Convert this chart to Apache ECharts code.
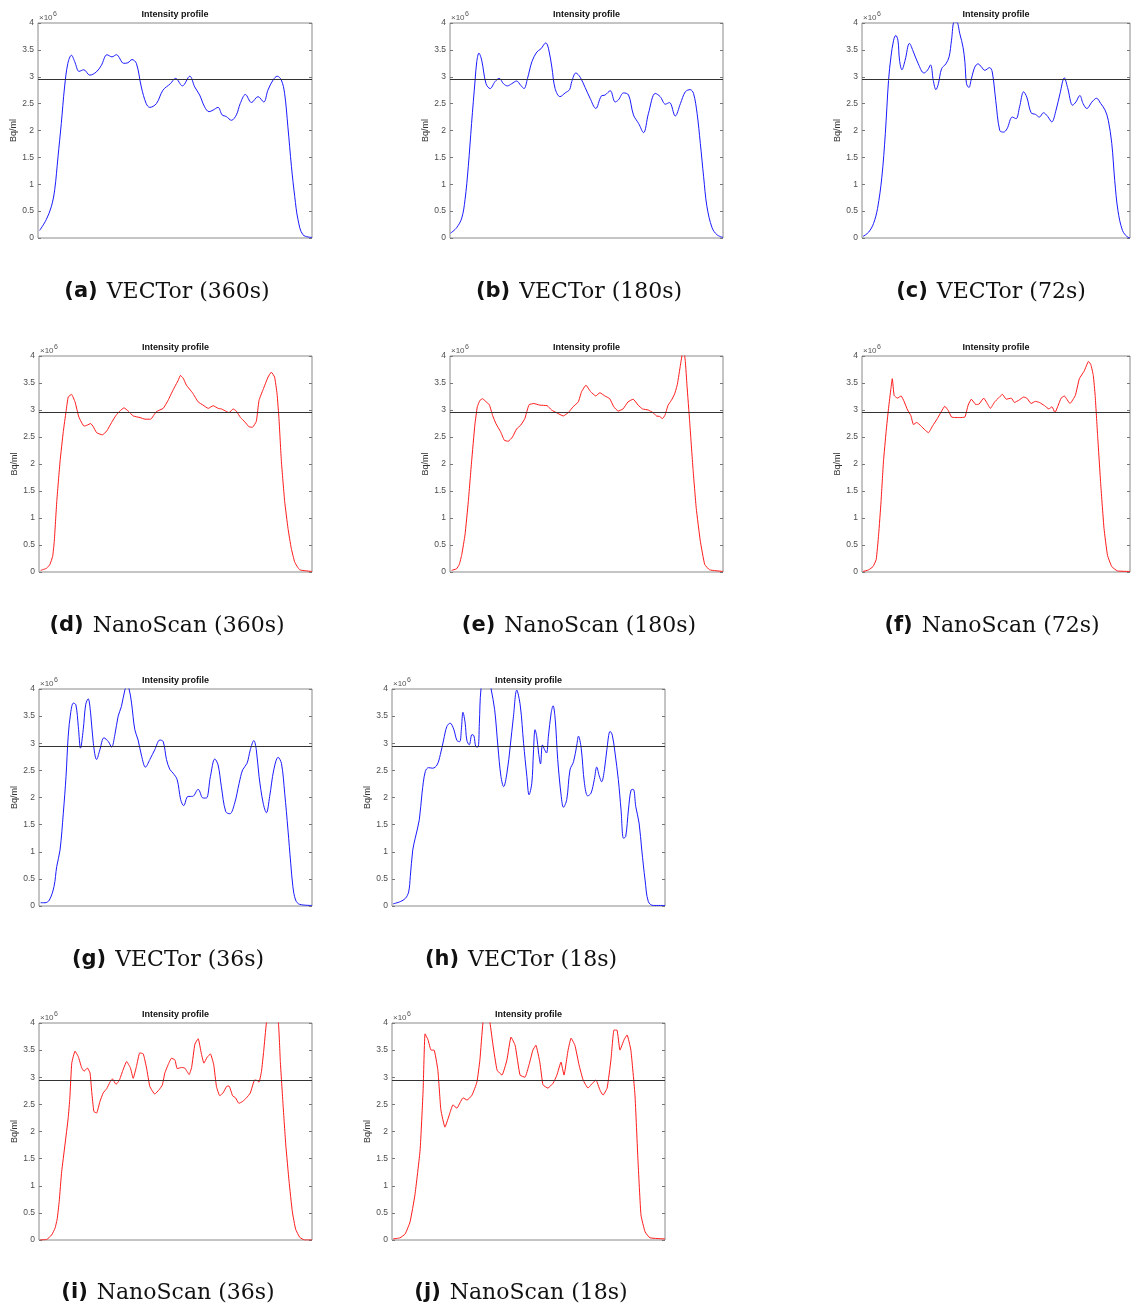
<!DOCTYPE html>
<html>
<head>
<meta charset="utf-8">
<script src="https://cdn.jsdelivr.net/npm/echarts@6/dist/echarts.min.js"></script>
<style>
html,body{margin:0;padding:0;background:#fff;}
#chart{width:1131px;height:1310px;}
</style>
</head>
<body>
<div id="chart"></div>
<script>
// ---- data: [position along profile (% of width), activity (×10^6 Bq/ml)] ----
const vector360 = [[0.6,0.14],[3.0,0.34],[4.9,0.59],[6.1,0.90],[7.3,1.51],[8.5,2.13],[9.7,2.81],[10.9,3.25],[12.2,3.40],[13.4,3.28],[15.0,3.10],[16.7,3.13],[18.9,3.03],[21.3,3.09],[23.1,3.21],[25.2,3.41],[27.0,3.37],[28.6,3.41],[31.3,3.25],[32.8,3.26],[34.3,3.32],[35.9,3.25],[37.7,2.81],[39.5,2.50],[40.8,2.43],[43.2,2.50],[45.6,2.75],[48.3,2.87],[50.2,2.97],[52.7,2.83],[55.4,3.01],[57.2,2.81],[59.0,2.66],[60.8,2.44],[62.4,2.35],[63.9,2.38],[65.7,2.43],[67.2,2.29],[68.7,2.26],[70.6,2.19],[72.4,2.29],[73.8,2.50],[75.7,2.67],[77.9,2.52],[80.3,2.63],[82.4,2.53],[83.9,2.75],[85.8,2.94],[87.3,3.01],[88.8,2.94],[90.0,2.69],[91.2,2.07],[92.5,1.33],[93.7,0.77],[94.9,0.34],[96.7,0.06],[100,0.01]];
const vector180 = [[0.2,0.09],[2.4,0.19],[4.3,0.37],[5.5,0.71],[6.7,1.33],[7.9,2.13],[9.2,2.94],[9.8,3.28],[10.6,3.44],[11.6,3.31],[13.2,2.87],[14.7,2.78],[16.5,2.91],[18.0,2.97],[19.6,2.87],[21.0,2.83],[22.6,2.87],[24.4,2.92],[25.9,2.84],[27.1,2.78],[28.4,2.97],[30.0,3.28],[31.8,3.46],[33.3,3.52],[35.1,3.63],[36.1,3.52],[37.3,3.18],[38.5,2.78],[40.3,2.63],[42.2,2.70],[43.8,2.76],[44.6,2.91],[46.1,3.07],[47.7,2.99],[49.5,2.80],[51.3,2.60],[53.4,2.41],[55.4,2.64],[56.8,2.66],[58.7,2.74],[60.5,2.53],[61.7,2.57],[63.6,2.70],[65.4,2.66],[67.2,2.29],[69.1,2.13],[70.9,1.96],[72.7,2.32],[75.2,2.69],[77.0,2.63],[78.9,2.49],[80.4,2.52],[82.5,2.27],[84.4,2.50],[86.2,2.72],[88.0,2.76],[89.2,2.69],[90.5,2.32],[91.7,1.76],[92.9,1.14],[94.1,0.59],[96.0,0.19],[97.8,0.06],[100,0.01]];
const vector72 = [[0.4,0.03],[2.5,0.11],[4.3,0.27],[5.8,0.55],[7.4,1.13],[8.7,1.94],[9.9,2.93],[10.8,3.37],[11.8,3.68],[12.6,3.77],[13.4,3.68],[14.0,3.31],[14.9,3.13],[16.1,3.31],[17.7,3.62],[19.2,3.46],[21.0,3.24],[23.1,3.07],[24.4,3.12],[25.6,3.22],[26.6,2.93],[27.6,2.76],[28.5,2.87],[29.7,3.15],[31.3,3.24],[32.5,3.37],[33.4,3.68],[34.4,4.02],[35.3,4.02],[36.5,3.80],[37.7,3.55],[38.4,3.27],[39.0,2.87],[39.9,2.80],[40.8,2.96],[42.1,3.18],[43.3,3.24],[44.6,3.18],[45.8,3.12],[47.6,3.17],[48.6,3.09],[49.9,2.56],[51.4,2.00],[52.8,1.97],[54.1,2.03],[56.1,2.25],[57.5,2.22],[58.8,2.44],[60.3,2.72],[61.5,2.62],[63.1,2.33],[64.7,2.30],[66.2,2.25],[67.7,2.33],[69.3,2.26],[70.8,2.16],[72.4,2.38],[73.9,2.69],[75.5,2.98],[76.7,2.80],[78.6,2.47],[79.8,2.53],[81.3,2.65],[82.5,2.50],[83.9,2.41],[85.8,2.53],[87.5,2.60],[89.1,2.50],[90.7,2.38],[91.9,2.19],[93.2,1.76],[94.3,1.07],[95.5,0.51],[97.2,0.14],[99.0,0.02],[100,0.0]];
const nano360 = [[0.6,0.03],[2.8,0.07],[4.0,0.14],[5.0,0.29],[5.6,0.57],[6.5,1.30],[7.7,2.04],[8.9,2.60],[9.9,2.97],[10.7,3.24],[11.9,3.29],[13.2,3.15],[14.6,2.87],[16.5,2.70],[17.7,2.72],[18.9,2.75],[19.9,2.69],[21.1,2.58],[23.2,2.54],[24.8,2.61],[26.6,2.77],[28.2,2.90],[29.6,2.98],[31.1,3.04],[32.7,2.98],[34.5,2.89],[37.0,2.86],[38.8,2.83],[40.9,2.83],[43.0,2.97],[45.5,3.03],[47.3,3.18],[49.1,3.37],[51.0,3.55],[51.8,3.64],[52.8,3.59],[54.0,3.46],[56.2,3.32],[58.3,3.15],[60.1,3.09],[62.0,3.03],[63.8,3.08],[65.6,3.03],[66.8,3.02],[68.4,2.98],[69.6,2.95],[71.1,3.02],[72.3,2.98],[73.8,2.86],[75.4,2.78],[76.9,2.69],[78.2,2.68],[79.6,2.79],[80.6,3.18],[82.1,3.38],[83.9,3.61],[85.1,3.70],[86.3,3.61],[87.2,3.30],[87.9,2.84],[88.8,2.04],[90.0,1.30],[91.2,0.81],[92.4,0.44],[93.7,0.18],[95.5,0.04],[100,0.01]];
const nano180 = [[0.6,0.03],[2.4,0.06],[3.4,0.14],[4.3,0.32],[5.5,0.69],[6.7,1.30],[7.9,2.04],[9.1,2.72],[10.0,3.06],[11.0,3.18],[12.0,3.21],[13.2,3.15],[14.4,3.10],[15.6,2.90],[16.8,2.75],[18.5,2.60],[19.9,2.44],[21.3,2.42],[22.9,2.50],[24.4,2.65],[25.9,2.72],[27.4,2.84],[28.3,3.00],[29.0,3.10],[30.7,3.12],[32.9,3.09],[35.6,3.08],[37.2,3.00],[39.0,2.95],[41.5,2.89],[43.3,2.95],[45.1,3.06],[47.0,3.15],[48.2,3.34],[49.8,3.46],[51.5,3.34],[53.4,3.26],[54.9,3.32],[56.7,3.26],[58.5,3.21],[60.0,3.06],[61.6,2.98],[63.4,3.02],[65.2,3.15],[67.1,3.20],[68.9,3.09],[70.5,3.02],[72.6,3.00],[74.4,2.95],[75.6,2.89],[76.8,2.88],[77.8,2.84],[78.7,2.90],[79.9,3.09],[81.1,3.18],[82.3,3.30],[83.3,3.48],[84.4,3.83],[85.5,4.15],[86.2,3.90],[86.8,3.46],[87.8,2.78],[89.0,1.92],[90.2,1.18],[91.7,0.57],[93.3,0.14],[95.1,0.04],[100,0.01]];
const nano72 = [[0.4,0.01],[2.5,0.04],[4.1,0.10],[5.3,0.23],[6.2,0.69],[7.1,1.30],[8.0,2.04],[9.0,2.60],[9.9,3.03],[10.8,3.40],[11.3,3.58],[12.0,3.27],[13.2,3.22],[14.6,3.26],[15.7,3.16],[17.0,3.00],[18.2,2.90],[19.2,2.73],[20.4,2.77],[21.9,2.71],[23.5,2.63],[24.8,2.58],[26.4,2.71],[28.1,2.84],[29.7,2.98],[30.9,3.07],[32.2,2.99],[33.4,2.87],[34.7,2.86],[36.5,2.86],[38.4,2.87],[39.6,3.09],[40.8,3.20],[42.5,3.10],[43.7,3.11],[45.4,3.22],[46.4,3.15],[47.9,3.03],[49.5,3.15],[50.7,3.21],[52.4,3.29],[53.8,3.20],[55.7,3.22],[56.9,3.14],[58.5,3.18],[60.3,3.24],[61.5,3.22],[63.1,3.12],[64.7,3.16],[66.2,3.14],[68.1,3.08],[69.7,3.02],[70.9,3.06],[72.0,2.95],[73.0,3.06],[74.3,3.22],[75.5,3.26],[77.6,3.12],[79.6,3.27],[81.1,3.58],[82.9,3.72],[84.5,3.90],[85.4,3.84],[86.3,3.64],[87.0,3.27],[87.9,2.54],[89.1,1.61],[90.3,0.81],[91.6,0.31],[93.2,0.10],[95.3,0.02],[100,0.01]];
const vector36 = [[0.6,0.06],[2.2,0.06],[3.8,0.11],[5.5,0.36],[6.5,0.73],[7.7,1.03],[8.9,1.71],[9.9,2.39],[10.7,3.13],[11.6,3.56],[12.6,3.74],[13.5,3.71],[14.4,3.31],[15.2,2.91],[16.2,3.25],[17.1,3.71],[18.0,3.82],[18.9,3.56],[19.9,3.00],[21.1,2.70],[22.3,2.88],[23.8,3.10],[25.4,3.03],[26.6,2.93],[27.8,3.16],[29.0,3.50],[30.2,3.68],[31.5,3.99],[32.3,4.05],[33.0,4.0],[33.9,3.74],[35.1,3.25],[36.3,3.06],[37.6,2.76],[39.0,2.56],[40.6,2.70],[42.4,2.88],[44.3,3.06],[45.5,3.03],[46.7,2.70],[47.9,2.52],[49.1,2.45],[50.6,2.33],[51.9,1.96],[53.0,1.85],[54.6,2.02],[56.2,2.02],[58.3,2.15],[60.1,1.99],[61.3,1.99],[62.8,2.39],[64.4,2.71],[65.6,2.60],[66.8,2.20],[68.4,1.74],[69.9,1.70],[71.7,1.90],[73.3,2.26],[74.6,2.51],[76.2,2.63],[77.4,2.88],[78.7,3.05],[79.6,2.88],[80.6,2.39],[82.1,1.90],[83.3,1.72],[84.5,2.02],[86.0,2.51],[87.6,2.74],[88.8,2.63],[90.0,2.08],[91.2,1.40],[92.2,0.79],[93.0,0.36],[94.0,0.11],[95.5,0.03],[100,0.01]];
const vector18 = [[0.4,0.04],[3.0,0.08],[4.9,0.14],[6.1,0.26],[6.7,0.54],[7.6,1.03],[8.5,1.25],[10.0,1.59],[11.0,2.08],[12.2,2.48],[13.4,2.55],[14.9,2.54],[16.5,2.60],[17.7,2.79],[18.9,3.06],[20.1,3.31],[21.3,3.37],[22.6,3.26],[23.8,3.05],[24.8,3.03],[25.4,3.25],[26.0,3.57],[26.8,3.37],[27.4,3.06],[28.3,2.97],[29.3,3.16],[30.0,3.14],[30.7,2.94],[31.5,2.93],[32.0,3.37],[32.6,4.0],[34.4,4.5],[36.3,4.0],[37.6,3.62],[38.8,2.94],[39.9,2.39],[40.9,2.20],[42.1,2.45],[43.3,2.94],[44.5,3.50],[45.7,3.98],[47.0,3.69],[48.2,3.00],[49.4,2.39],[50.2,2.05],[51.2,2.26],[51.8,2.82],[52.4,3.25],[53.0,3.13],[53.7,2.82],[54.4,2.62],[55.1,2.97],[55.9,2.88],[56.6,2.82],[57.3,3.13],[58.3,3.56],[59.0,3.69],[59.8,3.43],[60.7,2.70],[62.0,2.02],[62.8,1.82],[64.0,1.96],[65.2,2.51],[66.5,2.66],[67.7,2.97],[68.3,3.13],[69.3,2.91],[70.5,2.26],[71.7,2.03],[72.9,2.08],[74.1,2.33],[75.0,2.56],[75.9,2.40],[76.8,2.29],[77.8,2.51],[78.7,2.88],[79.9,3.22],[80.7,3.15],[81.7,2.82],[82.9,2.33],[83.9,1.77],[84.8,1.25],[85.6,1.28],[86.6,1.77],[87.6,2.14],[88.4,2.15],[89.3,1.83],[90.5,1.53],[91.5,1.03],[92.7,0.48],[93.9,0.08],[95.7,0.01],[100,0.01]];
const nano36 = [[0.4,0.0],[2.8,0.01],[4.6,0.09],[5.9,0.22],[6.7,0.40],[7.4,0.71],[8.3,1.26],[9.5,1.75],[10.7,2.25],[11.3,2.62],[12.0,3.26],[13.2,3.48],[14.4,3.38],[15.6,3.18],[16.5,3.11],[17.7,3.17],[18.7,3.08],[19.3,2.74],[20.1,2.37],[21.1,2.34],[22.3,2.55],[23.5,2.71],[24.8,2.79],[26.0,2.91],[26.9,2.97],[28.2,2.87],[29.4,2.94],[30.6,3.11],[32.1,3.29],[33.5,3.17],[34.5,2.98],[35.7,3.20],[36.9,3.45],[38.2,3.43],[39.4,3.17],[40.6,2.83],[42.4,2.69],[44.0,2.77],[45.2,2.86],[46.1,3.08],[47.3,3.23],[48.5,3.35],[49.8,3.32],[50.6,3.16],[52.2,3.18],[53.4,3.17],[55.0,3.05],[55.9,3.18],[57.1,3.61],[58.3,3.71],[59.5,3.43],[60.4,3.26],[61.6,3.37],[62.8,3.43],[64.0,3.23],[65.0,2.83],[66.2,2.66],[67.4,2.71],[68.7,2.83],[69.6,2.84],[70.9,2.66],[72.0,2.62],[73.2,2.52],[74.5,2.55],[76.0,2.62],[77.4,2.71],[79.0,2.95],[79.9,2.94],[80.6,2.91],[81.5,3.11],[82.3,3.48],[83.3,4.0],[85.5,4.6],[87.7,4.0],[88.4,3.29],[89.4,2.49],[90.4,1.75],[91.6,1.08],[92.8,0.52],[94.0,0.20],[95.5,0.05],[97.3,0.0],[100,0.0]];
const nano18 = [[0.4,0.02],[2.9,0.04],[4.8,0.11],[6.6,0.33],[8.4,0.83],[10.3,1.66],[11.4,2.76],[12.1,3.80],[13.2,3.69],[14.3,3.50],[15.4,3.50],[16.8,3.13],[17.9,2.40],[19.4,2.08],[21.2,2.34],[22.3,2.49],[23.8,2.43],[24.9,2.53],[26.0,2.62],[27.5,2.58],[29.3,2.67],[31.1,2.91],[32.2,3.32],[33.3,4.0],[34.6,4.3],[35.9,4.0],[37.0,3.59],[38.5,3.13],[40.3,3.04],[42.1,3.32],[43.6,3.74],[45.1,3.59],[46.9,3.04],[48.7,3.00],[50.2,3.23],[51.6,3.50],[52.7,3.59],[54.2,3.26],[55.3,2.86],[57.1,2.80],[59.0,2.89],[60.4,3.04],[61.9,3.28],[63.0,3.04],[64.5,3.50],[65.6,3.72],[67.0,3.59],[68.5,3.23],[70.0,2.95],[71.8,2.80],[72.9,2.86],[74.7,2.95],[76.2,2.76],[77.3,2.67],[78.8,2.80],[80.2,3.32],[81.3,3.87],[82.4,3.87],[83.5,3.50],[85.0,3.69],[86.1,3.78],[87.5,3.50],[89.0,2.67],[90.1,1.47],[91.2,0.46],[92.7,0.15],[94.5,0.04],[100,0.02]];

const referenceLevel = 2.95;
const yTicks = {min: 0, max: 4, interval: 0.5};

const panels = [
  {tag:'(a)', label:'VECTor (360s)',   data: vector360, kind:'vector'},
  {tag:'(b)', label:'VECTor (180s)',   data: vector180, kind:'vector'},
  {tag:'(c)', label:'VECTor (72s)',    data: vector72,  kind:'vector'},
  {tag:'(d)', label:'NanoScan (360s)', data: nano360,   kind:'nano'},
  {tag:'(e)', label:'NanoScan (180s)', data: nano180,   kind:'nano'},
  {tag:'(f)', label:'NanoScan (72s)',  data: nano72,    kind:'nano'},
  {tag:'(g)', label:'VECTor (36s)',    data: vector36,  kind:'vector'},
  {tag:'(h)', label:'VECTor (18s)',    data: vector18,  kind:'vector'},
  {tag:'(i)', label:'NanoScan (36s)',  data: nano36,    kind:'nano'},
  {tag:'(j)', label:'NanoScan (18s)',  data: nano18,    kind:'nano'}
];

// ---- layout (pixels) ----
const layout = [
  {left:38,  top:23,  width:274, height:215, capX:167, capY:292},
  {left:450, top:23,  width:273, height:215, capX:579, capY:292},
  {left:862, top:23,  width:268, height:215, capX:991, capY:292},
  {left:39,  top:356, width:273, height:216, capX:167, capY:626},
  {left:450, top:356, width:273, height:216, capX:579, capY:626},
  {left:862, top:356, width:268, height:216, capX:992, capY:626},
  {left:39,  top:689, width:273, height:217, capX:168, capY:960},
  {left:392, top:689, width:273, height:217, capX:521, capY:960},
  {left:39,  top:1023,width:273, height:217, capX:168, capY:1293},
  {left:392, top:1023,width:273, height:217, capX:521, capY:1293}
];

const grid = [], xAxis = [], yAxis = [], series = [], graphic = [];
panels.forEach((p, i) => {
  const L = layout[i];
  grid.push({left:L.left, top:L.top, width:L.width, height:L.height,
    show:true, borderColor:'#8a8a8a', borderWidth:1, backgroundColor:'transparent', containLabel:false});
  xAxis.push({type:'value', gridIndex:i, min:0, max:100,
    axisLine:{show:false}, axisTick:{show:false}, axisLabel:{show:false}, splitLine:{show:false}});
  yAxis.push({type:'value', gridIndex:i, min:yTicks.min, max:yTicks.max, interval:yTicks.interval,
    position:'left',
    name:'Bq/ml', nameLocation:'middle', nameRotate:90, nameGap:19,
    nameTextStyle:{fontFamily:'Liberation Sans', fontSize:9, color:'#333'},
    axisLine:{show:false},
    axisTick:{show:true, inside:true, length:3, lineStyle:{color:'#777'}},
    axisLabel:{show:true, fontFamily:'Liberation Sans', fontSize:8.5, color:'#4d4d4d', margin:4},
    splitLine:{show:false}});
  yAxis.push({type:'value', gridIndex:i, min:yTicks.min, max:yTicks.max, interval:yTicks.interval,
    position:'right',
    axisLine:{show:false},
    axisTick:{show:true, inside:true, length:3, lineStyle:{color:'#777'}},
    axisLabel:{show:false}, splitLine:{show:false}});
  const isV = p.kind === 'vector';
  series.push({type:'line', xAxisIndex:i, yAxisIndex:2*i, data:p.data,
    showSymbol:false, symbol:'none', smooth: isV ? 0.35 : 0.12, clip:true,
    lineStyle:{color: isV ? '#1a1aff' : '#ff1a1a', width:1},
    animation:false,
    markLine:{silent:true, symbol:'none', animation:false, label:{show:false},
      lineStyle:{color:'#333', width:1, type:'solid'},
      data:[{yAxis: referenceLevel}]}
  });
  // panel title
  graphic.push({type:'text', x:L.left + L.width/2, y:L.top - 8,
    style:{text:'Intensity profile', font:'bold 9px "Liberation Sans"', fill:'#111', align:'center', verticalAlign:'middle'}});
  // exponent
  graphic.push({type:'text', x:L.left + 1, y:L.top - 5,
    style:{text:'×10', font:'8px "Liberation Sans"', fill:'#555', align:'left', verticalAlign:'middle'}});
  graphic.push({type:'text', x:L.left + 15, y:L.top - 9,
    style:{text:'6', font:'7px "Liberation Sans"', fill:'#555', align:'left', verticalAlign:'middle'}});
  // caption
  graphic.push({type:'text', x:L.capX, y:L.capY,
    style:{text:'{b|' + p.tag + '}{s|' + p.label + '}', align:'center', verticalAlign:'middle',
      rich:{
        b:{font:'bold 21px "DejaVu Sans"', fill:'#111', padding:[0,9,0,0]},
        s:{font:'22px "DejaVu Serif"', fill:'#111'}
      }}});
});

const chart = echarts.init(document.getElementById('chart'), null, {renderer:'canvas'});
chart.setOption({
  animation:false,
  backgroundColor:'#fff',
  grid, xAxis, yAxis, series, graphic
});
</script>
</body>
</html>
